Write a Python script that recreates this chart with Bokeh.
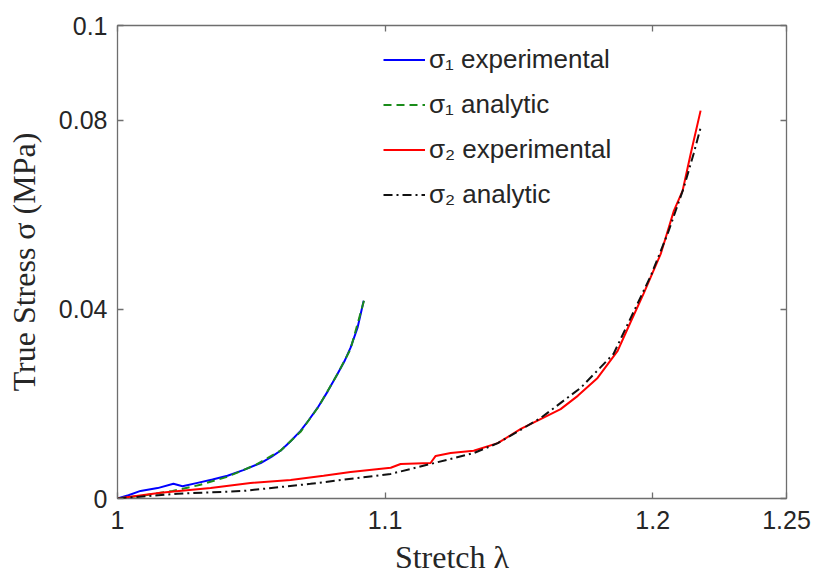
from bokeh.plotting import figure
from bokeh.models import LinearAxis, FixedTicker, Legend, LegendItem, Range1d
from bokeh.embed import file_html
from bokeh.resources import INLINE

# ---- data ----
s1_exp_x = [1.000, 1.0041, 1.0086, 1.0150, 1.0209, 1.0243, 1.0299, 1.0355, 1.0411, 1.0470, 1.0535,
            1.0575, 1.0609, 1.0645, 1.0684, 1.0715, 1.0748, 1.0785, 1.0822, 1.0848, 1.0871, 1.0897, 1.0920]
s1_exp_y = [0.0, 0.0007, 0.0016, 0.0022, 0.0031, 0.0026, 0.0033, 0.0040, 0.0048, 0.0060, 0.0075,
            0.0088, 0.0101, 0.0120, 0.0143, 0.0166, 0.0192, 0.0226, 0.0263, 0.0290, 0.0319, 0.0361, 0.0418]

s1_ana_x = [1.000, 1.0105, 1.0206, 1.0310, 1.0411, 1.0516, 1.0609, 1.0684, 1.0751, 1.0822, 1.0871, 1.0923]
s1_ana_y = [0.0, 0.0007, 0.0016, 0.0029, 0.0046, 0.0071, 0.0101, 0.0141, 0.0194, 0.0263, 0.0316, 0.0422]

s2_exp_x = [1.000, 1.0161, 1.0348, 1.0497, 1.0647, 1.0770, 1.0871, 1.1021, 1.1058, 1.1170, 1.1189,
            1.1245, 1.1331, 1.1421, 1.1507, 1.1581, 1.1656, 1.1720, 1.1794, 1.1869, 1.1915, 1.1966,
            1.2030, 1.2079, 1.2112, 1.2142, 1.2179]
s2_exp_y = [0.0, 0.0012, 0.0022, 0.0033, 0.0039, 0.0048, 0.0056, 0.0065, 0.0073, 0.0075, 0.0090,
            0.0096, 0.0101, 0.0117, 0.0147, 0.0168, 0.0189, 0.0217, 0.0255, 0.0312, 0.0370, 0.0433,
            0.0517, 0.0608, 0.0651, 0.0729, 0.0820]

s2_ana_x = [1.000, 1.0224, 1.0471, 1.0721, 1.1021, 1.1170, 1.1331, 1.1421, 1.1581, 1.1731, 1.1854,
            1.1993, 1.2056, 1.2116, 1.2153, 1.2179]
s2_ana_y = [0.0, 0.0010, 0.0016, 0.0031, 0.0052, 0.0073, 0.0096, 0.0117, 0.0170, 0.0234, 0.0306,
            0.0471, 0.0560, 0.0657, 0.0729, 0.0784]

x_ticks = [1.0, 1.1, 1.2, 1.25]
x_tick_labels = ["1", "1.1", "1.2", "1.25"]
y_ticks = [0.0, 0.04, 0.08, 0.1]
y_tick_labels = ["0", "0.04", "0.08", "0.1"]

legend_labels = ["σ₁ experimental", "σ₁ analytic", "σ₂ experimental", "σ₂ analytic"]
x_title = "Stretch λ"
y_title = "True Stress σ (MPa)"

AX = "#6e6e6e"
TXT = "#262626"

p = figure(width=812, height=580, output_backend="svg", toolbar_location=None,
           x_range=Range1d(1.0, 1.25), y_range=Range1d(0.0, 0.1),
           min_border_left=117, min_border_right=26, min_border_top=25, min_border_bottom=82)
p.background_fill_color = "white"
p.border_fill_color = "white"
p.grid.visible = False
p.outline_line_color = AX
p.outline_line_width = 1.3

r1 = p.line(s1_exp_x, s1_exp_y, line_color="#0000ff", line_width=2)
r2 = p.line(s1_ana_x, s1_ana_y, line_color="#1a8c1a", line_width=2, line_dash="8 5")
r3 = p.line(s2_exp_x, s2_exp_y, line_color="#ff0000", line_width=2)
r4 = p.line(s2_ana_x, s2_ana_y, line_color="#111111", line_width=2, line_dash="9 4 2 4")

xt = {v: s for v, s in zip(x_ticks, x_tick_labels)}
yt = {v: s for v, s in zip(y_ticks, y_tick_labels)}

for ax in p.xaxis:
    ax.ticker = FixedTicker(ticks=x_ticks)
    ax.major_label_overrides = xt
for ax in p.yaxis:
    ax.ticker = FixedTicker(ticks=y_ticks)
    ax.major_label_overrides = yt

for ax in list(p.xaxis) + list(p.yaxis):
    ax.axis_line_color = None
    ax.major_tick_in = 6
    ax.major_tick_out = 0
    ax.major_tick_line_color = AX
    ax.major_tick_line_width = 1.3
    ax.minor_tick_line_color = None
    ax.major_label_text_font = "Liberation Sans"
    ax.major_label_text_font_size = "25px"
    ax.major_label_text_color = TXT
    ax.axis_label_text_font = "Liberation Serif"
    ax.axis_label_text_font_size = "32px"
    ax.axis_label_text_font_style = "normal"
    ax.axis_label_text_color = TXT

p.xaxis.axis_label = x_title
p.yaxis.axis_label = y_title
p.xaxis.major_label_standoff = 12
p.xaxis.axis_label_standoff = 7
p.yaxis.major_label_standoff = 10
p.yaxis.axis_label_standoff = 14

# ticks on top and right (box style), no labels
top = LinearAxis(ticker=FixedTicker(ticks=x_ticks), axis_line_color=None, major_tick_in=6,
                 major_tick_out=0, major_tick_line_color=AX, major_tick_line_width=1.3,
                 minor_tick_line_color=None, major_label_text_color=None,
                 major_label_text_font_size="1px", major_label_standoff=0)
right = LinearAxis(ticker=FixedTicker(ticks=y_ticks), axis_line_color=None, major_tick_in=6,
                   major_tick_out=0, major_tick_line_color=AX, major_tick_line_width=1.3,
                   minor_tick_line_color=None, major_label_text_color=None,
                   major_label_text_font_size="1px", major_label_standoff=0)
p.add_layout(top, "above")
p.add_layout(right, "right")

legend = Legend(items=[LegendItem(label=legend_labels[0], renderers=[r1]),
                       LegendItem(label=legend_labels[1], renderers=[r2]),
                       LegendItem(label=legend_labels[2], renderers=[r3]),
                       LegendItem(label=legend_labels[3], renderers=[r4])],
                location=(266, 281), orientation="vertical",
                border_line_color=None, background_fill_alpha=0,
                padding=0, margin=0, spacing=0,
                glyph_width=42, glyph_height=45, label_height=45, label_standoff=4,
                label_text_font="Liberation Sans", label_text_font_size="26px",
                label_text_color=TXT)
p.add_layout(legend, "center")

open("out.html", "w").write(file_html(p, INLINE))
